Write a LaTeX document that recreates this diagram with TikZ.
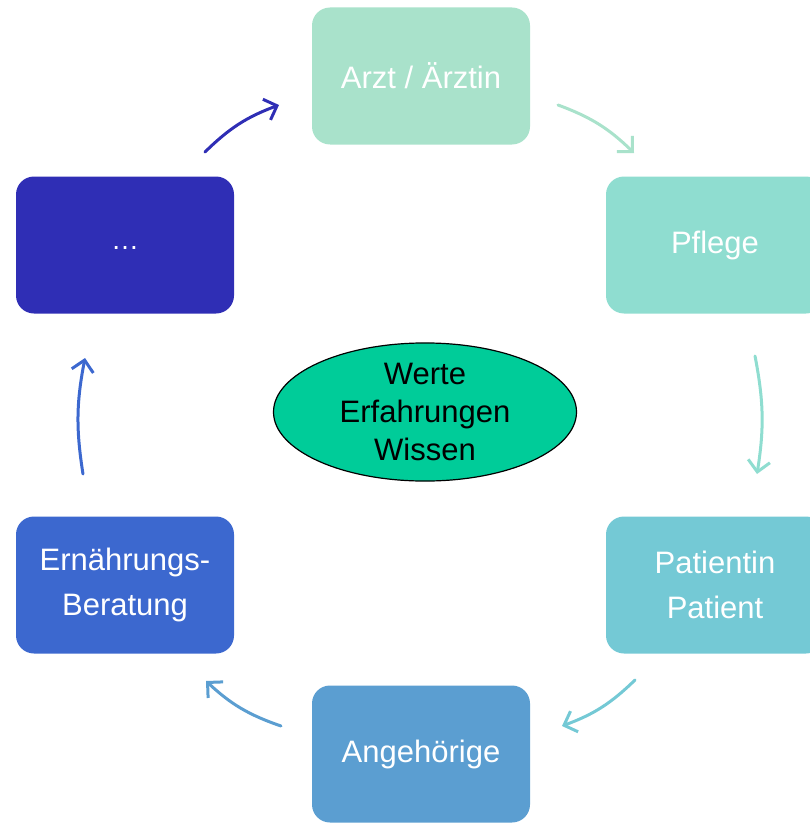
\documentclass[tikz,border=0pt]{standalone}
\usepackage{fontspec}
\setmainfont{Liberation Sans}
\usetikzlibrary{arrows.meta,shapes.geometric}
\definecolor{cArzt}{HTML}{A9E2CB}
\definecolor{cPflege}{HTML}{8FDDD0}
\definecolor{cPat}{HTML}{74C9D5}
\definecolor{cAng}{HTML}{5B9ED1}
\definecolor{cErn}{HTML}{3C68CF}
\definecolor{cDots}{HTML}{2F2EB5}
\definecolor{cCore}{HTML}{00CC99}
\tikzset{
  box/.style={rounded corners=18pt, minimum width=218pt, minimum height=137pt, inner sep=0pt,
    text=white, align=center, font=\fontsize{31}{45}\selectfont},
  arr/.style={line width=3pt, line cap=round, -{Straight Barb[length=11pt,width=22pt,line width=3pt]}},
}
\begin{document}
\begin{tikzpicture}[x=1pt,y=-1pt]
\useasboundingbox (0,0) rectangle (810,824);
\clip (0,0) rectangle (810,824);
\node[box, fill=cArzt] (arzt) at (421,76) {Arzt / Ärztin};
\node[box, fill=cPflege] (pflege) at (715,245) {Pflege};
\node[box, fill=cPat] (pat) at (715,585) {Patientin\\Patient};
\node[box, fill=cAng] (ang) at (421,754) {Angehörige};
\node[box, fill=cErn] (ern) at (125,585) {Ernährungs-\\Beratung};
\node[box, fill=cDots] (dots) at (125,245) {\raisebox{-8pt}{\fontsize{28}{30}\selectfont …}};
\node[ellipse, draw=black, line width=1.2pt, fill=cCore, minimum width=303pt, minimum height=123pt,
  inner sep=0pt, align=center, font=\fontsize{31}{38}\selectfont] (core) at (425,412) {Werte\\Erfahrungen\\Wissen};
\coordinate (a1s) at (558,105); \coordinate (a1e) at (634,153);
\coordinate (a2s) at (755,356); \coordinate (a2e) at (757,474);
\coordinate (a3s) at (635,680); \coordinate (a3e) at (562,726);
\coordinate (a4s) at (281,726); \coordinate (a4e) at (206,681);
\coordinate (a5s) at (83,474); \coordinate (a5e) at (85,358);
\coordinate (a6s) at (205,152); \coordinate (a6e) at (279,105);
\draw[arr, draw=cArzt] (a1s) to[bend left=12] (a1e);
\draw[arr, draw=cPflege] (a2s) to[bend left=10] (a2e);
\draw[arr, draw=cPat] (a3s) to[bend left=12] (a3e);
\draw[arr, draw=cAng] (a4s) to[bend left=12] (a4e);
\draw[arr, draw=cErn] (a5s) to[bend left=10] (a5e);
\draw[arr, draw=cDots] (a6s) to[bend left=12] (a6e);
\end{tikzpicture}
\end{document}
